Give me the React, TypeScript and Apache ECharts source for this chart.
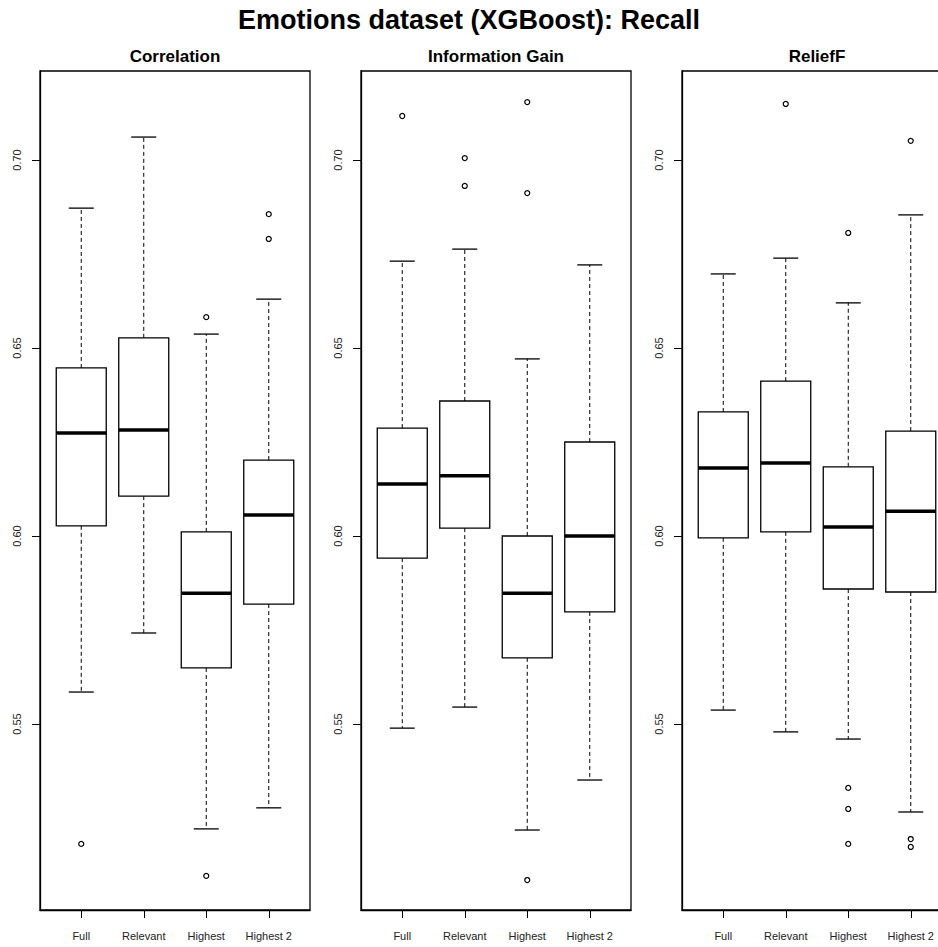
import React, { useEffect, useRef } from "react";
import * as echarts from "echarts";

const mainTitle = "Emotions dataset (XGBoost): Recall";
const methods = ["Correlation", "Information Gain", "ReliefF"];
const categories = ["Full", "Relevant", "Highest", "Highest 2"];
const yTicks = [0.55, 0.6, 0.65, 0.7];

// [lower whisker, Q1, median, Q3, upper whisker] per category
const correlationStats = [
  [0.5585, 0.6027, 0.6274, 0.6447, 0.6872],
  [0.5742, 0.6106, 0.6282, 0.6527, 0.7061],
  [0.5221, 0.5649, 0.5848, 0.6011, 0.6537],
  [0.5277, 0.5819, 0.6056, 0.6202, 0.663],
];
const correlationOutliers = [[0.5181], [], [0.6582, 0.5096], [0.6856, 0.679]];

const infoGainStats = [
  [0.5489, 0.5941, 0.6138, 0.6287, 0.6731],
  [0.5545, 0.6021, 0.616, 0.6359, 0.6763],
  [0.5218, 0.5676, 0.5848, 0.6, 0.6471],
  [0.5351, 0.5798, 0.6, 0.625, 0.6721],
];
const infoGainOutliers = [[0.7117], [0.7005, 0.6931], [0.7154, 0.6912, 0.5085], []];

const reliefStats = [
  [0.5537, 0.5995, 0.6181, 0.633, 0.6697],
  [0.5479, 0.6011, 0.6194, 0.6412, 0.6739],
  [0.546, 0.5859, 0.6024, 0.6184, 0.662],
  [0.5266, 0.5851, 0.6066, 0.6279, 0.6854],
];
const reliefOutliers = [[], [0.7149], [0.6806, 0.533, 0.5274, 0.5181], [0.7051, 0.5194, 0.5173]];

const panelStats = [correlationStats, infoGainStats, reliefStats];
const panelOutliers = [correlationOutliers, infoGainOutliers, reliefOutliers];

const FONT = "'Liberation Sans', Arial, Helvetica, sans-serif";
const PANEL_LEFTS = [40, 361, 682];
const PANEL_WIDTH = 270;
const GRID_TOP = 71;
const GRID_HEIGHT = 839;
const Y_MIN = 0.50053;
const Y_MAX = 0.72367;

function renderBox(params: any, api: any) {
  const x = api.value(0);
  const lo = api.value(1);
  const q1 = api.value(2);
  const med = api.value(3);
  const q3 = api.value(4);
  const hi = api.value(5);
  const half = 0.4;
  const capHalf = 0.2;
  const xl = api.coord([x - half, med])[0];
  const xr = api.coord([x + half, med])[0];
  const cl = api.coord([x - capHalf, med])[0];
  const cr = api.coord([x + capHalf, med])[0];
  const xc = api.coord([x, med])[0];
  const yy = (v: number) => api.coord([x, v])[1];
  const yLo = yy(lo);
  const yQ1 = yy(q1);
  const yMed = yy(med);
  const yQ3 = yy(q3);
  const yHi = yy(hi);
  const dash = { stroke: "#000", lineWidth: 1, lineDash: [4, 3], fill: null };
  const solid = { stroke: "#000", lineWidth: 1.3, fill: null };
  return {
    type: "group",
    children: [
      { type: "line", shape: { x1: xc, y1: yQ3, x2: xc, y2: yHi }, style: dash },
      { type: "line", shape: { x1: xc, y1: yQ1, x2: xc, y2: yLo }, style: dash },
      { type: "line", shape: { x1: cl, y1: yHi, x2: cr, y2: yHi }, style: solid },
      { type: "line", shape: { x1: cl, y1: yLo, x2: cr, y2: yLo }, style: solid },
      {
        type: "rect",
        shape: { x: xl, y: yQ3, width: xr - xl, height: yQ1 - yQ3 },
        style: { fill: "#fff", stroke: "#000", lineWidth: 1.3 },
      },
      { type: "line", shape: { x1: xl, y1: yMed, x2: xr, y2: yMed }, style: { stroke: "#000", lineWidth: 3.5 } },
    ],
  };
}

export default function App() {
  const ref = useRef<HTMLDivElement>(null);
  useEffect(() => {
    if (!ref.current) return;
    const chart = echarts.init(ref.current, undefined, { renderer: "svg" });

    const grids: any[] = [];
    const xAxes: any[] = [];
    const yAxes: any[] = [];
    const series: any[] = [];
    const graphics: any[] = [
      {
        type: "text",
        x: 469,
        y: 20,
        style: {
          text: mainTitle,
          font: `bold 27px ${FONT}`,
          fill: "#000",
          textAlign: "center",
          textVerticalAlign: "middle",
        },
      },
    ];

    methods.forEach((m, i) => {
      grids.push({
        left: PANEL_LEFTS[i],
        width: PANEL_WIDTH,
        top: GRID_TOP,
        height: GRID_HEIGHT,
        show: true,
        borderColor: "#000",
        borderWidth: 1.3,
        backgroundColor: "transparent",
        containLabel: false,
      });
      xAxes.push({
        type: "value",
        gridIndex: i,
        min: 0.34,
        max: 4.66,
        splitLine: { show: false },
        axisLine: { show: true, lineStyle: { color: "#000", width: 1.3 } },
        axisTick: {
          show: true,
          length: 8,
          customValues: [1, 2, 3, 4],
          lineStyle: { color: "#000", width: 1 },
        },
        axisLabel: {
          show: true,
          customValues: [1, 2, 3, 4],
          formatter: (v: number) => categories[Math.round(v) - 1] ?? "",
          margin: 20,
          fontSize: 11,
          fontFamily: FONT,
          color: "#222",
        },
      });
      yAxes.push({
        type: "value",
        gridIndex: i,
        min: Y_MIN,
        max: Y_MAX,
        splitLine: { show: false },
        axisLine: { show: true, lineStyle: { color: "#000", width: 1.3 } },
        axisTick: {
          show: true,
          length: 8,
          customValues: yTicks,
          lineStyle: { color: "#000", width: 1 },
        },
        axisLabel: {
          show: true,
          customValues: yTicks,
          rotate: 90,
          formatter: (v: number) => v.toFixed(2),
          margin: 18,
          fontSize: 11,
          fontFamily: FONT,
          color: "#222",
        },
      });
      series.push({
        type: "custom",
        xAxisIndex: i,
        yAxisIndex: i,
        renderItem: renderBox,
        encode: { x: 0, y: [1, 2, 3, 4, 5] },
        data: panelStats[i].map((s, k) => [k + 1, ...s]),
        clip: false,
        silent: true,
      });
      const outs: number[][] = [];
      panelOutliers[i].forEach((arr, k) => arr.forEach((v) => outs.push([k + 1, v])));
      series.push({
        type: "scatter",
        xAxisIndex: i,
        yAxisIndex: i,
        symbol: "circle",
        symbolSize: 5,
        itemStyle: { color: "#fff", borderColor: "#000", borderWidth: 1.2, opacity: 1 },
        data: outs,
        silent: true,
      });
      graphics.push({
        type: "text",
        x: PANEL_LEFTS[i] + PANEL_WIDTH / 2,
        y: 56,
        style: {
          text: m,
          font: `bold 17px ${FONT}`,
          fill: "#000",
          textAlign: "center",
          textVerticalAlign: "middle",
        },
      });
    });

    chart.setOption({
      animation: false,
      backgroundColor: "#fff",
      textStyle: { fontFamily: FONT },
      grid: grids,
      xAxis: xAxes,
      yAxis: yAxes,
      series,
      graphic: graphics,
    });
    return () => chart.dispose();
  }, []);

  return (
    <div
      style={{
        position: "fixed",
        left: 0,
        top: 0,
        width: 938,
        height: 947,
        overflow: "hidden",
        background: "#fff",
      }}
    >
      <div ref={ref} style={{ width: 970, height: 947 }} />
    </div>
  );
}
